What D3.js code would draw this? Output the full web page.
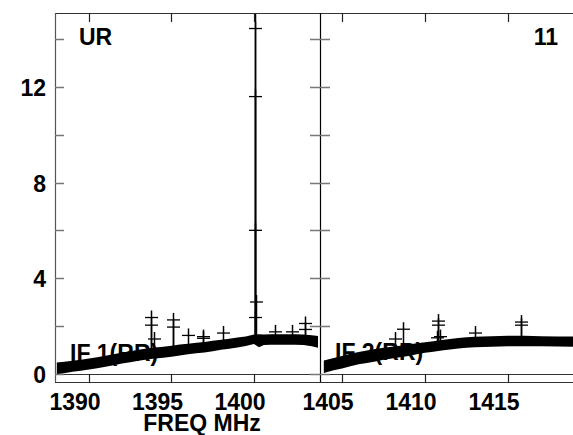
<!DOCTYPE html>
<html><head><meta charset="utf-8">
<script src="https://cdn.jsdelivr.net/npm/d3@7"></script>
<style>
html,body{margin:0;padding:0;background:#fff;}
text{font-family:"Liberation Sans",Arial,sans-serif;font-weight:bold;}
</style></head>
<body>
<svg id="c" width="573" height="435"></svg>
<script>
// ---- data ----
const yTicksMajor = [0, 4, 8, 12];
const yTicksMinor = [2, 6, 10, 14];
const if1Ticks = [1390, 1395, 1400];
const if2Ticks = [1405, 1410, 1415];

const if1Freq = [1388.05,1388.5,1389.0,1389.5,1390.0,1390.5,1391.0,1391.5,1392.0,1392.5,1393.0,1393.5,1394.0,1394.5,1395.0,1395.5,1396.0,1396.5,1397.0,1397.5,1398.0,1398.5,1399.0,1399.5,1400.0,1400.3,1400.6,1401.0,1401.5,1402.0,1402.5,1403.0,1403.5,1403.88];
const if1Amp  = [0.22,0.26,0.31,0.35,0.40,0.46,0.52,0.58,0.65,0.71,0.77,0.82,0.86,0.90,0.94,0.99,1.03,1.07,1.11,1.16,1.21,1.25,1.30,1.36,1.44,1.38,1.42,1.43,1.43,1.43,1.43,1.42,1.38,1.33];
const if1Err  = [0.25,0.24,0.23,0.23,0.23,0.23,0.23,0.23,0.23,0.23,0.23,0.23,0.23,0.23,0.23,0.23,0.22,0.22,0.22,0.22,0.21,0.21,0.21,0.20,0.20,0.27,0.22,0.22,0.22,0.22,0.22,0.22,0.23,0.25];

const if2Freq = [1403.9,1404.5,1405.0,1405.5,1406.0,1406.5,1407.0,1407.5,1408.0,1408.5,1409.0,1409.5,1410.0,1410.5,1411.0,1411.5,1412.0,1412.5,1413.0,1413.5,1414.0,1414.5,1415.0,1415.5,1416.0,1417.0,1418.0,1419.0,1419.6];
const if2Amp  = [0.29,0.40,0.48,0.57,0.65,0.71,0.77,0.83,0.88,0.93,0.98,1.04,1.09,1.14,1.19,1.23,1.27,1.30,1.32,1.34,1.35,1.36,1.37,1.37,1.37,1.36,1.35,1.34,1.34];
const if2Err  = [0.26,0.26,0.26,0.26,0.26,0.26,0.26,0.25,0.25,0.24,0.24,0.23,0.22,0.22,0.22,0.22,0.22,0.22,0.22,0.22,0.22,0.22,0.22,0.22,0.22,0.21,0.21,0.21,0.21];

// outlying channels (+ markers)
const if1OutFreq = [1393.75,1393.75,1393.95,1395.1,1395.1,1396.0,1396.9,1396.9,1398.1,1401.3,1402.3,1403.1,1403.1];
const if1OutAmp  = [2.35,2.03,1.45,2.25,1.95,1.60,1.55,1.48,1.70,1.75,1.75,2.10,1.85];
const spikeFreq = [1400.08,1400.08,1400.08,1400.08,1400.12,1400.08];
const spikeAmp  = [15.3,14.45,11.6,6.0,3.0,2.35];
const if2OutFreq = [1408.7,1408.2,1410.8,1410.8,1410.9,1410.7,1413.0,1415.8,1415.8];
const if2OutAmp  = [1.86,1.45,2.20,2.03,1.55,1.50,1.70,2.16,2.03];

// ---- layout ----
const svg = d3.select("#c");
const L = 55, M = 320, T = 13, B = 382;
const y = d3.scaleLinear().domain([-0.35, 15.1]).range([B, T]);
const x1 = d3.scaleLinear().domain([1387.94, 1404.0]).range([L, M]);
const x2 = d3.scaleLinear().domain([1403.67, 1419.67]).range([M, 585.6]);

svg.append("clipPath").attr("id","cp1").append("rect").attr("x",L).attr("y",T).attr("width",M-L).attr("height",B-T);
svg.append("clipPath").attr("id","cp2").append("rect").attr("x",M).attr("y",T).attr("width",600-M).attr("height",B-T);

// IF labels (under the data)
svg.append("text").attr("x",70).attr("y",361).attr("font-size",23).text("IF 1(RR)");
svg.append("text").attr("x",335).attr("y",360).attr("font-size",23).text("IF 2(RR)");

function panel(x, freq, amp, err, oF, oA, clip){
  const g = svg.append("g").attr("clip-path","url(#"+clip+")");
  const pts = freq.map((f,i)=>({f, a:amp[i], e:err[i]}));
  const area = d3.area().x(d=>x(d.f)).y0(d=>y(d.a-d.e)).y1(d=>y(d.a+d.e)).curve(d3.curveLinear);
  g.append("path").datum(pts).attr("d",area).attr("fill","#000");
  const bis = d3.bisector(d=>d.f).center;
  oF.forEach((f,i)=>{
    const a = oA[i];
    const base = pts[bis(pts,f)].a;
    const xx = Math.round(x(f))+0.5;
    g.append("line").attr("x1",xx).attr("x2",xx).attr("y1",y(base)).attr("y2",y(a)-7)
      .attr("stroke","#000").attr("stroke-width",1.5);
    g.append("line").attr("x1",xx-6.5).attr("x2",xx+6.5).attr("y1",y(a)).attr("y2",y(a))
      .attr("stroke","#000").attr("stroke-width",1.3);
  });
  return g;
}
panel(x1, if1Freq, if1Amp, if1Err, if1OutFreq.concat(spikeFreq), if1OutAmp.concat(spikeAmp), "cp1");
panel(x2, if2Freq, if2Amp, if2Err, if2OutFreq, if2OutAmp, "cp2");

// ---- frame ----
const fc = "#333";
svg.append("line").attr("x1",L).attr("x2",573).attr("y1",T+0.5).attr("y2",T+0.5).attr("stroke",fc).attr("stroke-width",1.2);
svg.append("line").attr("x1",L).attr("x2",573).attr("y1",B+0.5).attr("y2",B+0.5).attr("stroke",fc).attr("stroke-width",1.2);
svg.append("line").attr("x1",L).attr("x2",573).attr("y1",Math.round(y(0))+0.5).attr("y2",Math.round(y(0))+0.5).attr("stroke",fc).attr("stroke-width",1);
svg.append("line").attr("x1",L+0.5).attr("x2",L+0.5).attr("y1",T).attr("y2",B).attr("stroke","#555").attr("stroke-width",1.2);
svg.append("line").attr("x1",M+0.5).attr("x2",M+0.5).attr("y1",T).attr("y2",B).attr("stroke","#000").attr("stroke-width",1.2);

// y ticks
const allY = yTicksMajor.concat(yTicksMinor);
allY.forEach(v=>{
  const yy = Math.round(y(v))+0.5;
  svg.append("line").attr("x1",L).attr("x2",L+9).attr("y1",yy).attr("y2",yy).attr("stroke","#777").attr("stroke-width",1.5);
  svg.append("line").attr("x1",M-10).attr("x2",M+10).attr("y1",yy).attr("y2",yy).attr("stroke","#777").attr("stroke-width",1.5);
});
yTicksMajor.forEach(v=>{
  svg.append("text").attr("x",46).attr("y",y(v)+9).attr("text-anchor","end").attr("font-size",23).text(v);
});

// x ticks
function xt(x, ticks){
  ticks.forEach(t=>{
    const xx = Math.round(x(t))+0.5;
    svg.append("line").attr("x1",xx).attr("x2",xx).attr("y1",T).attr("y2",T+9).attr("stroke","#222").attr("stroke-width",1.2);
    svg.append("line").attr("x1",xx).attr("x2",xx).attr("y1",B).attr("y2",Math.round(y(0))).attr("stroke","#222").attr("stroke-width",1.2);
    svg.append("text").attr("x",x(t)-14).attr("y",410).attr("text-anchor","middle").attr("font-size",23).text(t);
  });
}
xt(x1, if1Ticks);
xt(x2, if2Ticks);

svg.append("text").attr("x",202).attr("y",431).attr("text-anchor","middle").attr("font-size",23).text("FREQ MHz");
svg.append("text").attr("x",79).attr("y",45).attr("font-size",23).text("UR");
svg.append("text").attr("x",558).attr("y",45).attr("text-anchor","end").attr("font-size",23).text("11");
</script>
</body></html>
